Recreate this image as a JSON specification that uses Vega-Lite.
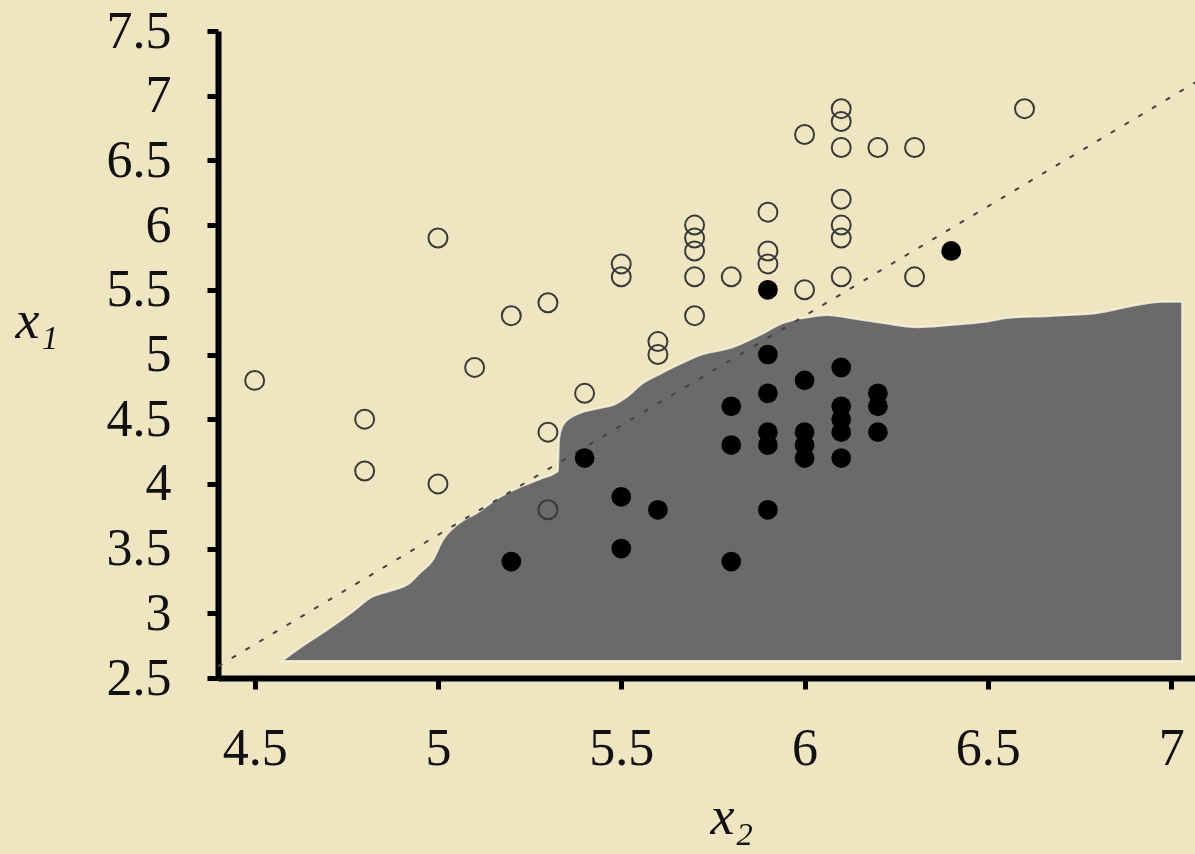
{
  "$schema": "https://vega.github.io/schema/vega-lite/v6.json",
  "autosize": "none",
  "width": 977,
  "height": 647,
  "padding": {"left": 218, "top": 31, "right": 0, "bottom": 176},
  "background": "#efe5c1",
  "config": {
    "view": {"stroke": null},
    "font": "Liberation Serif",
    "axis": {
      "grid": false,
      "domainColor": "#000000",
      "domainWidth": 6,
      "tickColor": "#000000",
      "tickWidth": 5,
      "tickSize": 11,
      "labelFont": "Liberation Serif",
      "labelFontSize": 52,
      "labelColor": "#111111",
      "titleFont": "Liberation Serif",
      "titleFontStyle": "italic",
      "titleFontWeight": "normal",
      "titleFontSize": 54,
      "titleColor": "#111111"
    }
  },
  "datasets": {
    "region": [
      {"x": 4.574, "y": 2.631, "base": 2.631},
      {"x": 4.623, "y": 2.732, "base": 2.631},
      {"x": 4.705, "y": 2.886, "base": 2.631},
      {"x": 4.773, "y": 3.026, "base": 2.631},
      {"x": 4.819, "y": 3.126, "base": 2.631},
      {"x": 4.868, "y": 3.172, "base": 2.631},
      {"x": 4.923, "y": 3.234, "base": 2.631},
      {"x": 4.95, "y": 3.311, "base": 2.631},
      {"x": 4.986, "y": 3.412, "base": 2.631},
      {"x": 5.013, "y": 3.566, "base": 2.631},
      {"x": 5.051, "y": 3.682, "base": 2.631},
      {"x": 5.106, "y": 3.775, "base": 2.631},
      {"x": 5.169, "y": 3.899, "base": 2.631},
      {"x": 5.223, "y": 3.976, "base": 2.631},
      {"x": 5.286, "y": 4.046, "base": 2.631},
      {"x": 5.327, "y": 4.1, "base": 2.631},
      {"x": 5.33, "y": 4.339, "base": 2.631},
      {"x": 5.341, "y": 4.455, "base": 2.631},
      {"x": 5.36, "y": 4.509, "base": 2.631},
      {"x": 5.387, "y": 4.548, "base": 2.631},
      {"x": 5.442, "y": 4.587, "base": 2.631},
      {"x": 5.477, "y": 4.61, "base": 2.631},
      {"x": 5.515, "y": 4.672, "base": 2.631},
      {"x": 5.559, "y": 4.78, "base": 2.631},
      {"x": 5.605, "y": 4.849, "base": 2.631},
      {"x": 5.66, "y": 4.927, "base": 2.631},
      {"x": 5.715, "y": 4.996, "base": 2.631},
      {"x": 5.805, "y": 5.058, "base": 2.631},
      {"x": 5.878, "y": 5.151, "base": 2.631},
      {"x": 5.941, "y": 5.243, "base": 2.631},
      {"x": 6.015, "y": 5.29, "base": 2.631},
      {"x": 6.061, "y": 5.305, "base": 2.631},
      {"x": 6.124, "y": 5.282, "base": 2.631},
      {"x": 6.214, "y": 5.243, "base": 2.631},
      {"x": 6.307, "y": 5.211, "base": 2.631},
      {"x": 6.397, "y": 5.228, "base": 2.631},
      {"x": 6.487, "y": 5.251, "base": 2.631},
      {"x": 6.552, "y": 5.282, "base": 2.631},
      {"x": 6.67, "y": 5.298, "base": 2.631},
      {"x": 6.798, "y": 5.321, "base": 2.631},
      {"x": 6.907, "y": 5.383, "base": 2.631},
      {"x": 6.978, "y": 5.407, "base": 2.631},
      {"x": 7.03, "y": 5.407, "base": 2.631}
    ],
    "diag": [
      {"x": 4.4, "y": 2.59},
      {"x": 7.1, "y": 7.16}
    ],
    "points": [
      {"x2": 4.5, "x1": 4.8, "cls": "open"},
      {"x2": 4.8, "x1": 4.5, "cls": "open"},
      {"x2": 4.8, "x1": 4.1, "cls": "open"},
      {"x2": 5.0, "x1": 5.9, "cls": "open"},
      {"x2": 5.0, "x1": 4.0, "cls": "open"},
      {"x2": 5.1, "x1": 4.9, "cls": "open"},
      {"x2": 5.2, "x1": 5.3, "cls": "open"},
      {"x2": 5.3, "x1": 5.4, "cls": "open"},
      {"x2": 5.3, "x1": 4.4, "cls": "open"},
      {"x2": 5.3, "x1": 3.8, "cls": "open"},
      {"x2": 5.4, "x1": 4.7, "cls": "open"},
      {"x2": 5.5, "x1": 5.7, "cls": "open"},
      {"x2": 5.5, "x1": 5.6, "cls": "open"},
      {"x2": 5.6, "x1": 5.1, "cls": "open"},
      {"x2": 5.6, "x1": 5.0, "cls": "open"},
      {"x2": 5.7, "x1": 6.0, "cls": "open"},
      {"x2": 5.7, "x1": 5.9, "cls": "open"},
      {"x2": 5.7, "x1": 5.8, "cls": "open"},
      {"x2": 5.7, "x1": 5.6, "cls": "open"},
      {"x2": 5.7, "x1": 5.3, "cls": "open"},
      {"x2": 5.8, "x1": 5.6, "cls": "open"},
      {"x2": 5.9, "x1": 6.1, "cls": "open"},
      {"x2": 5.9, "x1": 5.8, "cls": "open"},
      {"x2": 5.9, "x1": 5.7, "cls": "open"},
      {"x2": 6.0, "x1": 6.7, "cls": "open"},
      {"x2": 6.0, "x1": 5.5, "cls": "open"},
      {"x2": 6.1, "x1": 6.9, "cls": "open"},
      {"x2": 6.1, "x1": 6.8, "cls": "open"},
      {"x2": 6.1, "x1": 6.6, "cls": "open"},
      {"x2": 6.1, "x1": 6.2, "cls": "open"},
      {"x2": 6.1, "x1": 6.0, "cls": "open"},
      {"x2": 6.1, "x1": 5.9, "cls": "open"},
      {"x2": 6.1, "x1": 5.6, "cls": "open"},
      {"x2": 6.2, "x1": 6.6, "cls": "open"},
      {"x2": 6.3, "x1": 6.6, "cls": "open"},
      {"x2": 6.3, "x1": 5.6, "cls": "open"},
      {"x2": 6.6, "x1": 6.9, "cls": "open"},
      {"x2": 5.2, "x1": 3.4, "cls": "filled"},
      {"x2": 5.4, "x1": 4.2, "cls": "filled"},
      {"x2": 5.5, "x1": 3.9, "cls": "filled"},
      {"x2": 5.5, "x1": 3.5, "cls": "filled"},
      {"x2": 5.6, "x1": 3.8, "cls": "filled"},
      {"x2": 5.8, "x1": 4.6, "cls": "filled"},
      {"x2": 5.8, "x1": 4.3, "cls": "filled"},
      {"x2": 5.8, "x1": 3.4, "cls": "filled"},
      {"x2": 5.9, "x1": 5.5, "cls": "filled"},
      {"x2": 5.9, "x1": 5.0, "cls": "filled"},
      {"x2": 5.9, "x1": 4.7, "cls": "filled"},
      {"x2": 5.9, "x1": 4.4, "cls": "filled"},
      {"x2": 5.9, "x1": 4.3, "cls": "filled"},
      {"x2": 5.9, "x1": 3.8, "cls": "filled"},
      {"x2": 6.0, "x1": 4.8, "cls": "filled"},
      {"x2": 6.0, "x1": 4.4, "cls": "filled"},
      {"x2": 6.0, "x1": 4.3, "cls": "filled"},
      {"x2": 6.0, "x1": 4.2, "cls": "filled"},
      {"x2": 6.1, "x1": 4.9, "cls": "filled"},
      {"x2": 6.1, "x1": 4.6, "cls": "filled"},
      {"x2": 6.1, "x1": 4.5, "cls": "filled"},
      {"x2": 6.1, "x1": 4.4, "cls": "filled"},
      {"x2": 6.1, "x1": 4.2, "cls": "filled"},
      {"x2": 6.2, "x1": 4.7, "cls": "filled"},
      {"x2": 6.2, "x1": 4.6, "cls": "filled"},
      {"x2": 6.2, "x1": 4.4, "cls": "filled"},
      {"x2": 6.4, "x1": 5.8, "cls": "filled"}
    ]
  },
  "encoding": {},
  "layer": [
    {
      "data": {"name": "region"},
      "mark": {"type": "area", "color": "#6a6a6a", "interpolate": "monotone", "stroke": "#fbf6e2", "strokeWidth": 2, "strokeOpacity": 0.8},
      "encoding": {
        "x": {"field": "x", "type": "quantitative", "scale": {"domain": [4.4, 7.065], "nice": false, "zero": false},
          "axis": {"values": [4.5, 5, 5.5, 6, 6.5, 7], "format": "~g", "labelPadding": 34, "title": "x₂", "titleAlign": "left", "titleBaseline": "alphabetic", "titleX": 492, "titleY": 155}},
        "y": {"field": "y", "type": "quantitative", "scale": {"domain": [2.5, 7.5], "nice": false, "zero": false},
          "axis": {"values": [2.5, 3, 3.5, 4, 4.5, 5, 5.5, 6, 6.5, 7, 7.5], "format": "~g", "labelPadding": 36, "title": "x₁", "titleAngle": 0, "titleAlign": "left", "titleBaseline": "alphabetic", "titleX": -203, "titleY": 306}},
        "y2": {"field": "base"}
      }
    },
    {
      "data": {"name": "diag"},
      "mark": {"type": "line", "color": "#444444", "strokeWidth": 2, "strokeDash": [5, 11], "clip": true},
      "encoding": {
        "x": {"field": "x", "type": "quantitative"},
        "y": {"field": "y", "type": "quantitative"}
      }
    },
    {
      "data": {"name": "points"},
      "transform": [{"filter": "datum.cls === 'open'"}],
      "mark": {"type": "point", "shape": "circle", "filled": false, "stroke": "#3a3a3a", "strokeWidth": 2, "size": 360, "opacity": 1},
      "encoding": {
        "x": {"field": "x2", "type": "quantitative"},
        "y": {"field": "x1", "type": "quantitative"}
      }
    },
    {
      "data": {"name": "points"},
      "transform": [{"filter": "datum.cls === 'filled'"}],
      "mark": {"type": "point", "shape": "circle", "filled": true, "color": "#000000", "size": 390, "opacity": 1},
      "encoding": {
        "x": {"field": "x2", "type": "quantitative"},
        "y": {"field": "x1", "type": "quantitative"}
      }
    }
  ]
}
